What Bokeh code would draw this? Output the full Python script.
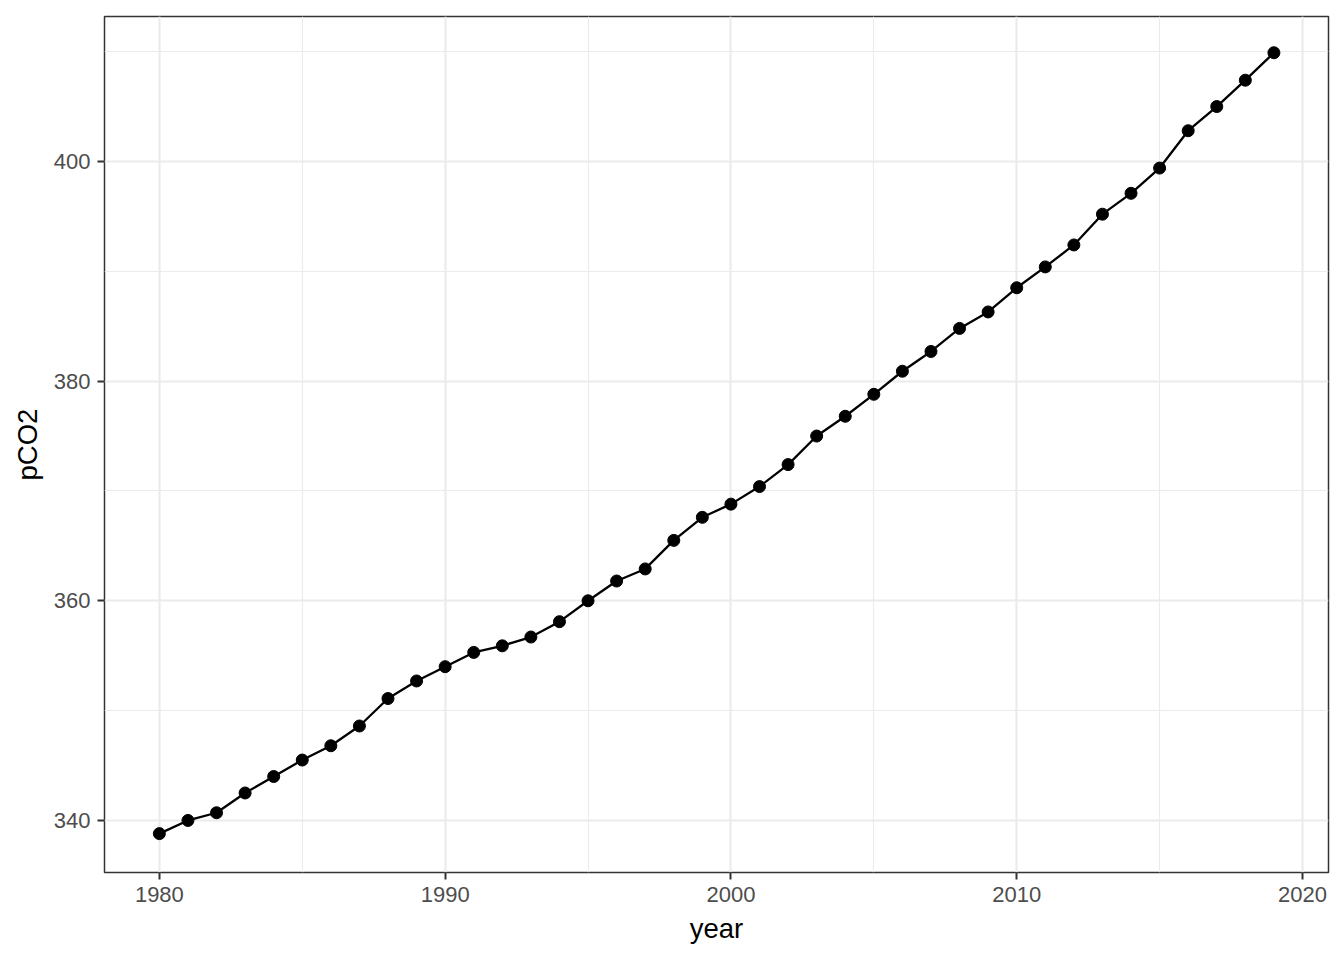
from bokeh.plotting import figure
from bokeh.models import Range1d, FixedTicker
from bokeh.embed import file_html
from bokeh.resources import INLINE

years = list(range(1980, 2020))
pco2 = [338.8, 340.0, 340.7, 342.5, 344.0, 345.5, 346.8, 348.6, 351.1, 352.7,
        354.0, 355.3, 355.9, 356.7, 358.1, 360.0, 361.8, 362.9, 365.5, 367.6,
        368.8, 370.4, 372.4, 375.0, 376.8, 378.8, 380.9, 382.7, 384.8, 386.3,
        388.5, 390.4, 392.4, 395.2, 397.1, 399.4, 402.8, 405.0, 407.4, 409.9]
x_ticks = [1980, 1990, 2000, 2010, 2020]
x_minor = [1985, 1995, 2005, 2015]
y_ticks = [340, 360, 380, 400]
y_minor = [350, 370, 390, 410]

FONT = "Liberation Sans"

p = figure(width=1336, height=952, output_backend="svg", toolbar_location=None,
           x_range=Range1d(1978.08, 2020.91), y_range=Range1d(335.26, 413.2),
           min_border_left=104, min_border_right=8, min_border_top=16, min_border_bottom=80,
           x_axis_label="year", y_axis_label="pCO2")

p.background_fill_color = "white"
p.border_fill_color = "white"
p.outline_line_color = "#333333"
p.outline_line_width = 1.5

for ax, ticks, minor in ((p.xaxis[0], x_ticks, x_minor), (p.yaxis[0], y_ticks, y_minor)):
    ax.ticker = FixedTicker(ticks=ticks, minor_ticks=minor)
    ax.axis_line_color = None
    ax.major_tick_line_color = "#333333"
    ax.major_tick_line_width = 2
    ax.major_tick_out = 7
    ax.major_tick_in = 0
    ax.minor_tick_line_color = None
    ax.major_label_text_font = FONT
    ax.major_label_text_font_size = "22px"
    ax.major_label_text_color = "#4D4D4D"
    ax.axis_label_text_font = FONT
    ax.axis_label_text_font_size = "27.5px"
    ax.axis_label_text_font_style = "normal"
    ax.axis_label_text_color = "black"

p.xaxis[0].major_label_standoff = 7
p.yaxis[0].major_label_standoff = 7
p.xaxis[0].axis_label_standoff = 8
p.yaxis[0].axis_label_standoff = 8

for g in (p.xgrid[0], p.ygrid[0]):
    g.grid_line_color = "#EBEBEB"
    g.grid_line_width = 2.2
    g.minor_grid_line_color = "#EBEBEB"
    g.minor_grid_line_width = 1.1

p.line(years, pco2, line_color="black", line_width=2.3)
p.scatter(years, pco2, size=12, fill_color="black", line_color="black")

open("out.html", "w").write(file_html(p, INLINE))
